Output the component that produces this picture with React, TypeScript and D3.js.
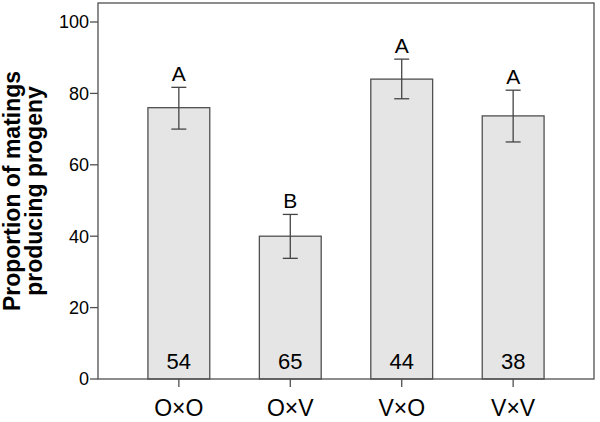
import React from "react";
import * as d3 from "d3";

const categories = ["O×O", "O×V", "V×O", "V×V"];
const proportions = [76, 40, 84, 73.7];
const errLow = [70, 33.8, 78.5, 66.4];
const errHigh = [81.7, 46.1, 89.6, 80.9];
const letters = ["A", "B", "A", "A"];
const counts = [54, 65, 44, 38];
const yTicks = [0, 20, 40, 60, 80, 100];

const W = 600;
const H = 422;
const left = 98;
const right = 594;
const top = 3;
const bottom = 379;
const font = "'Liberation Sans', Arial, Helvetica, sans-serif";

export default function App() {
  const x = d3
    .scaleBand<string>()
    .domain(categories)
    .range([left, right])
    .paddingInner(0.445)
    .paddingOuter(0.448);
  const y = d3.scaleLinear().domain([0, 100]).range([bottom, 22]);
  const stroke = "#505050";

  return (
    <svg
      width={W}
      height={H}
      style={{ position: "absolute", left: 0, top: 0, background: "#fff" }}
      fontFamily={font}
    >
      <rect x={0} y={0} width={W} height={H} fill="#fff" />
      {/* bars */}
      {categories.map((c, i) => (
        <rect
          key={"b" + c}
          x={x(c)!}
          y={y(proportions[i])}
          width={x.bandwidth()}
          height={y(0) - y(proportions[i])}
          fill="#e5e5e5"
          stroke={stroke}
          strokeWidth={1.3}
        />
      ))}
      {/* error bars */}
      {categories.map((c, i) => {
        const cx = x(c)! + x.bandwidth() / 2;
        return (
          <g key={"e" + c} stroke="#444" strokeWidth={1.3}>
            <line x1={cx} x2={cx} y1={y(errLow[i])} y2={y(errHigh[i])} />
            <line x1={cx - 7.5} x2={cx + 7.5} y1={y(errLow[i])} y2={y(errLow[i])} />
            <line x1={cx - 7.5} x2={cx + 7.5} y1={y(errHigh[i])} y2={y(errHigh[i])} />
          </g>
        );
      })}
      {/* letters */}
      {categories.map((c, i) => (
        <text
          key={"l" + c}
          x={x(c)! + x.bandwidth() / 2}
          y={y(errHigh[i]) - 6}
          textAnchor="middle"
          fontSize={21}
          fill="#000"
        >
          {letters[i]}
        </text>
      ))}
      {/* counts */}
      {categories.map((c, i) => (
        <text
          key={"n" + c}
          x={x(c)! + x.bandwidth() / 2}
          y={369}
          textAnchor="middle"
          fontSize={22}
          fill="#000"
        >
          {counts[i]}
        </text>
      ))}
      {/* frame */}
      <rect
        x={left}
        y={top}
        width={right - left}
        height={bottom - top}
        fill="none"
        stroke={stroke}
        strokeWidth={1.3}
      />
      {/* y ticks */}
      {yTicks.map((t) => (
        <g key={"y" + t}>
          <line x1={left - 8} x2={left} y1={y(t)} y2={y(t)} stroke={stroke} strokeWidth={1.3} />
          <text
            x={left - 9}
            y={y(t)}
            dy="0.36em"
            textAnchor="end"
            fontSize={18}
            fill="#000"
          >
            {t}
          </text>
        </g>
      ))}
      {/* x ticks */}
      {categories.map((c) => {
        const cx = x(c)! + x.bandwidth() / 2;
        return (
          <g key={"x" + c}>
            <line x1={cx} x2={cx} y1={bottom} y2={bottom + 8} stroke={stroke} strokeWidth={1.3} />
            <text x={cx} y={416} textAnchor="middle" fontSize={23} fill="#000">
              {c}
            </text>
          </g>
        );
      })}
      {/* y title */}
      <g transform={`translate(0,191) rotate(-90)`}>
        <text x={0} y={19.5} textAnchor="middle" fontSize={23} fontWeight="bold" fill="#000">
          Proportion of matings
        </text>
        <text x={0} y={42} textAnchor="middle" fontSize={23} fontWeight="bold" fill="#000">
          producing progeny
        </text>
      </g>
    </svg>
  );
}
